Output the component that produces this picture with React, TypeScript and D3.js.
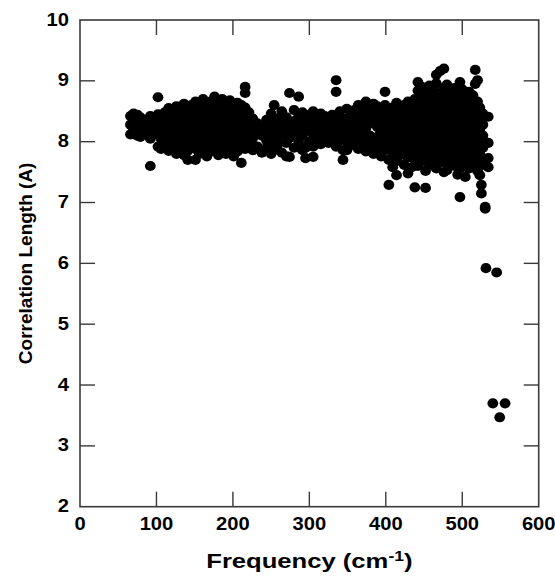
import React from "react";
import * as d3 from "d3";

// Each entry: [frequency (cm-1), correlation lengths (A) observed at that frequency]
const lowBand: [number, number[]][] = [
  [66, [8.12, 8.28, 8.42]],
  [70, [8.18, 8.35, 8.46]],
  [75, [8.1, 8.3, 8.44]],
  [79, [8.08, 8.22, 8.4]],
  [88, [8.15, 8.32]],
  [92, [7.6, 8.05, 8.25, 8.42]],
  [97, [8.12, 8.36]],
  [102, [8.73, 8.2, 7.92, 8.3, 8.45]],
  [106, [8.05, 8.28, 8.38, 7.88]],
  [111, [7.95, 8.15, 8.32, 8.48]],
  [116, [8.02, 8.22, 8.4, 8.55, 7.85]],
  [121, [7.9, 8.1, 8.3, 8.45]],
  [126, [7.98, 8.18, 8.36, 8.58, 7.8]],
  [131, [7.88, 8.05, 8.24, 8.42, 8.52]],
  [136, [7.95, 8.12, 8.3, 8.48, 8.62, 7.78]],
  [141, [7.85, 8.02, 8.2, 8.38, 8.55, 7.7]],
  [146, [7.92, 8.1, 8.28, 8.44, 8.6]],
  [151, [7.7, 7.88, 8.05, 8.22, 8.36, 8.52, 8.66]],
  [156, [7.95, 8.14, 8.3, 8.46, 8.62, 7.8]],
  [161, [7.86, 8.02, 8.2, 8.38, 8.55, 8.7]],
  [166, [7.92, 8.1, 8.26, 8.42, 8.58, 7.76]],
  [171, [7.84, 8.0, 8.18, 8.34, 8.5, 8.66]],
  [176, [7.9, 8.08, 8.24, 8.4, 8.56, 8.74]],
  [181, [7.78, 7.96, 8.14, 8.3, 8.48, 8.62]],
  [186, [7.88, 8.04, 8.22, 8.38, 8.54, 8.7]],
  [191, [7.8, 7.96, 8.12, 8.3, 8.46, 8.6]],
  [196, [7.86, 8.04, 8.2, 8.36, 8.52, 8.68]],
  [201, [7.92, 8.1, 8.26, 8.44, 8.58, 7.76]],
  [206, [7.84, 8.02, 8.18, 8.34, 8.5, 8.64]],
  [211, [7.94, 8.12, 8.28, 8.46, 8.6, 7.65]],
  [216, [7.88, 8.06, 8.22, 8.4, 8.56, 8.8, 8.9]],
  [221, [7.96, 8.14, 8.32, 8.48]],
  [226, [7.86, 8.06, 8.24, 8.38]],
];

const midBand: [number, number[]][] = [
  [232, [7.92, 8.18, 8.3]],
  [238, [7.82, 8.1, 8.26]],
  [244, [7.9, 8.02, 8.2, 8.36]],
  [250, [7.8, 7.96, 8.14, 8.3, 8.46]],
  [254, [8.6, 8.08, 7.86]],
  [258, [7.94, 8.03, 8.22, 8.38]],
  [264, [7.82, 8.12, 8.3, 8.5]],
  [270, [7.76, 7.98, 8.2, 8.4]],
  [274, [8.8, 8.06, 8.26, 7.75]],
  [280, [7.9, 8.14, 8.34, 8.52]],
  [286, [8.74, 8.0, 8.22, 8.42]],
  [291, [7.86, 8.1, 8.3, 8.48]],
  [295, [7.73, 7.9, 8.18, 8.38]],
  [300, [8.0, 8.24, 8.44]],
  [305, [7.75, 7.92, 8.12, 8.32, 8.5]],
  [310, [8.04, 8.2, 8.4]],
  [315, [7.96, 8.16, 8.3, 8.46]],
  [320, [8.08, 8.24, 8.42]],
  [325, [7.98, 8.18, 8.36]],
  [330, [8.06, 8.26, 8.44]],
  [335, [9.01, 8.82, 7.92, 8.14, 8.32]],
  [340, [8.02, 8.22, 8.4, 8.5]],
  [344, [7.7, 7.86, 8.12, 8.3]],
  [349, [7.86, 8.0, 8.2, 8.38, 8.54]],
  [354, [8.08, 8.26, 8.44, 7.94]],
  [359, [7.98, 8.16, 8.34, 8.52]],
  [364, [7.88, 8.06, 8.24, 8.42, 8.6]],
  [369, [7.96, 8.14, 8.32, 8.5]],
  [374, [7.84, 8.04, 8.22, 8.4, 8.58, 8.66]],
  [379, [7.92, 8.1, 8.36, 8.54]],
  [384, [7.8, 8.0, 8.3, 8.48, 8.62]],
  [389, [7.9, 8.08, 8.24, 8.42, 8.58]],
  [394, [7.76, 7.96, 8.16, 8.34, 8.52]],
  [399, [8.82, 7.86, 8.04, 8.22, 8.4, 8.6]],
];

const highBand: [number, number[]][] = [
  [404, [7.29, 7.7, 7.94, 8.12, 8.3, 8.48]],
  [409, [7.58, 7.82, 8.02, 8.2, 8.38, 8.56]],
  [414, [7.45, 7.68, 7.9, 8.1, 8.28, 8.46, 8.64]],
  [419, [7.78, 7.98, 8.16, 8.36, 8.54]],
  [424, [7.62, 7.86, 8.06, 8.24, 8.42, 8.6]],
  [429, [7.48, 7.74, 7.94, 8.14, 8.32, 8.5, 8.66]],
  [434, [7.58, 7.82, 8.02, 8.22, 8.4, 8.58]],
  [438, [7.25, 7.7, 7.9, 8.1, 8.3, 8.48, 8.7]],
  [442, [8.98, 8.84, 7.6, 7.8, 8.0, 8.18, 8.38, 8.56]],
  [447, [8.9, 7.68, 7.88, 8.08, 8.26, 8.44, 8.62, 8.76]],
  [452, [7.24, 7.52, 7.76, 7.96, 8.14, 8.32, 8.5, 8.68]],
  [457, [7.62, 7.84, 8.04, 8.22, 8.4, 8.58, 8.8, 8.92]],
  [462, [7.7, 7.9, 8.1, 8.3, 8.48, 8.66, 8.84]],
  [466, [9.1, 7.56, 7.78, 7.98, 8.18, 8.36, 8.54, 8.72, 8.96]],
  [471, [9.16, 7.66, 7.86, 8.06, 8.26, 8.44, 8.62, 8.8]],
  [476, [9.2, 7.5, 7.74, 7.94, 8.14, 8.32, 8.5, 8.7, 8.88]],
  [480, [7.53, 7.64, 7.84, 8.04, 8.22, 8.4, 8.58, 8.76, 8.94]],
  [485, [7.72, 7.92, 8.12, 8.3, 8.48, 8.66, 8.84]],
  [490, [7.6, 7.8, 8.0, 8.2, 8.38, 8.56, 8.74, 8.88]],
  [494, [7.46, 7.68, 7.88, 8.08, 8.28, 8.46, 8.64, 8.82]],
  [497, [7.09, 8.98]],
  [500, [7.58, 7.76, 7.96, 8.16, 8.34, 8.52, 8.7, 8.86]],
  [504, [7.42, 7.66, 7.86, 8.06, 8.24, 8.42, 8.6, 8.78]],
  [509, [7.56, 7.74, 7.94, 8.14, 8.32, 8.5, 8.68, 8.82]],
  [514, [7.64, 7.84, 8.04, 8.22, 8.4, 8.58, 8.76]],
  [517, [9.18, 8.95]],
  [520, [7.52, 7.72, 7.92, 8.12, 8.3, 8.48, 8.66, 9.01]],
  [523, [7.45, 7.6, 7.8, 8.0, 8.2, 8.38, 8.56]],
  [525, [7.29, 7.15]],
  [527, [7.68, 7.9, 8.1, 8.28, 8.46]],
  [530, [6.93, 6.9]],
  [534, [8.41, 7.98, 7.58, 7.73]],
];

const tail: [number, number[]][] = [
  [531, [5.92]],
  [545, [5.85]],
  [540, [3.7]],
  [556, [3.7]],
  [549, [3.47]],
];

const xTicks = [0, 100, 200, 300, 400, 500, 600];
const yTicks = [2, 3, 4, 5, 6, 7, 8, 9, 10];

const W = 555;
const H = 577;
const M = { left: 80, right: 538.7, top: 20, bottom: 506.7 };
const FONT = "'Liberation Sans', Arial, Helvetica, sans-serif";

export default function App() {
  const x = d3.scaleLinear().domain([0, 600]).range([M.left, M.right]);
  const y = d3.scaleLinear().domain([2, 10]).range([M.bottom, M.top]);

  const points = [...lowBand, ...midBand, ...highBand, ...tail].flatMap(
    ([f, vals]) => vals.map((v) => [f, v] as [number, number])
  );

  const axisColor = "#3a3a3a";
  const tickLen = 15;

  return (
    <svg
      width={W}
      height={H}
      style={{ position: "absolute", left: 0, top: 0, background: "#fff" }}
    >
      <rect x={0} y={0} width={W} height={H} fill="#fff" />
      {points.map(([f, v], i) => (
        <ellipse key={i} cx={x(f)} cy={y(v)} rx={5.4} ry={5.1} fill="#000" />
      ))}
      <rect
        x={M.left}
        y={M.top}
        width={M.right - M.left}
        height={M.bottom - M.top}
        fill="none"
        stroke={axisColor}
        strokeWidth={1.6}
      />
      {xTicks.slice(1, -1).map((t) => (
        <g key={"xt" + t}>
          <line x1={x(t)} x2={x(t)} y1={M.bottom} y2={M.bottom - tickLen} stroke={axisColor} strokeWidth={1.4} />
          <line x1={x(t)} x2={x(t)} y1={M.top} y2={M.top + tickLen} stroke={axisColor} strokeWidth={1.4} />
        </g>
      ))}
      {yTicks.slice(1, -1).map((t) => (
        <g key={"yt" + t}>
          <line x1={M.left} x2={M.left + tickLen} y1={y(t)} y2={y(t)} stroke={axisColor} strokeWidth={1.4} />
          <line x1={M.right} x2={M.right - tickLen} y1={y(t)} y2={y(t)} stroke={axisColor} strokeWidth={1.4} />
        </g>
      ))}
      {xTicks.map((t) => (
        <text
          key={"xl" + t}
          transform={`translate(${x(t)}, 530) scale(1.12, 1)`}
          textAnchor="middle"
          fontFamily={FONT}
          fontWeight="bold"
          fontSize={18}
          fill="#000"
        >
          {t}
        </text>
      ))}
      {yTicks.map((t) => (
        <text
          key={"yl" + t}
          transform={`translate(69, ${y(t) + 5.5}) scale(1.12, 1)`}
          textAnchor="end"
          fontFamily={FONT}
          fontWeight="bold"
          fontSize={18}
          fill="#000"
        >
          {t}
        </text>
      ))}
      <text
        transform={`translate(${(M.left + M.right) / 2}, 567.5) scale(1.25, 1)`}
        textAnchor="middle"
        fontFamily={FONT}
        fontWeight="bold"
        fontSize={20.5}
        fill="#000"
      >
        Frequency (cm
        <tspan fontSize={14} dy={-7}>-1</tspan>
        <tspan dy={7}>)</tspan>
      </text>
      <text
        transform={`translate(32, ${(M.top + M.bottom) / 2}) rotate(-90)`}
        textAnchor="middle"
        fontFamily={FONT}
        fontWeight="bold"
        fontSize={19}
        fill="#000"
      >
        Correlation Length (A)
      </text>
    </svg>
  );
}
